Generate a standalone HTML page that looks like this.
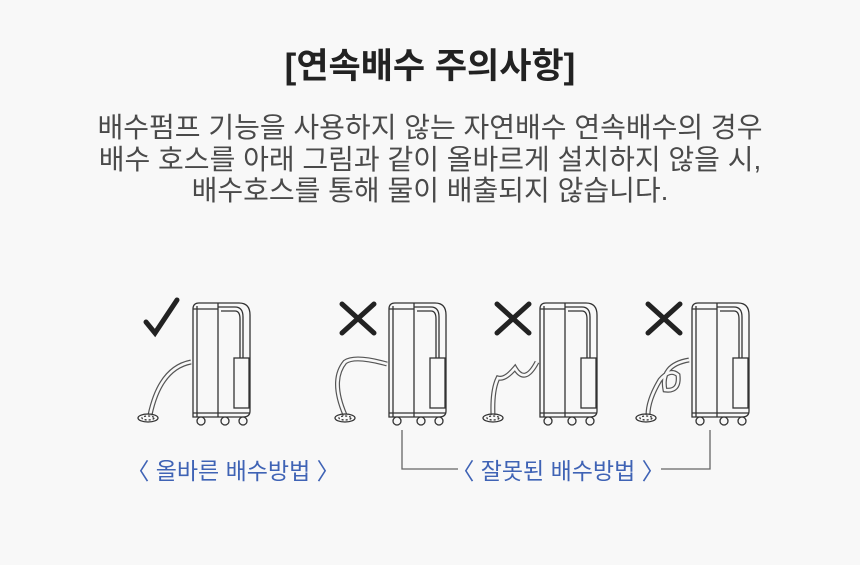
<!DOCTYPE html>
<html><head><meta charset="utf-8"><style>
body{margin:0;background:#f8f8f8;}
.w{position:relative;width:860px;height:565px;overflow:hidden;background:#f8f8f8;font-family:"Liberation Sans","Noto Sans CJK KR",sans-serif;}
.t{position:absolute;left:0;width:860px;text-align:center;}
</style></head><body><div class="w">
<div class="t" style="top:44px;font-size:35px;line-height:46px;font-weight:bold;color:#222;">[연속배수 주의사항]</div>
<div class="t" style="top:112px;font-size:28px;line-height:31.5px;color:#4a4a4a;">배수펌프 기능을 사용하지 않는 자연배수 연속배수의 경우<br>배수 호스를 아래 그림과 같이 올바르게 설치하지 않을 시,<br>배수호스를 통해 물이 배출되지 않습니다.</div>
<svg width="860" height="565" style="position:absolute;left:0;top:0" fill="none" stroke="#333" stroke-width="1.3">
<defs>
<g id="dev">
<path d="M0 116 V8 Q0 2 6 2 H46 Q57 2 57 14 V110 Q57 116 50 116 Z"/>
<line x1="25" y1="2" x2="25" y2="116"/>
<line x1="0" y1="8" x2="25" y2="8"/>
<path d="M25 6 H42 Q50 6 50 16 V57"/>
<path d="M28 10 H42 Q47 10 47 18 V57"/>
<rect x="41" y="57" width="15" height="50"/>
<line x1="4" y1="5" x2="4" y2="116"/>
<line x1="0" y1="112" x2="57" y2="112"/>
<circle cx="8" cy="120" r="4" fill="#f8f8f8"/><circle cx="32" cy="120" r="4" fill="#f8f8f8"/><circle cx="50" cy="120" r="4" fill="#f8f8f8"/>
</g>
<g id="base"><ellipse cx="0" cy="0" rx="10" ry="4"/><ellipse cx="0" cy="0" rx="6" ry="2" stroke-dasharray="2 2"/></g>
</defs>
<use href="#dev" x="193" y="301"/>
<use href="#dev" x="389" y="301"/>
<use href="#dev" x="540" y="301"/>
<use href="#dev" x="692" y="301"/>
<g stroke="#555" stroke-width="5"><path d="M191 362 Q160 368 150 415"/><path d="M387 364 Q355 355 345 362 Q330 380 345 415"/><path d="M537 362 Q525 385 515 368 Q505 380 498 378 Q492 390 493 415"/><path d="M689 360 Q660 365 665 390 Q680 392 678 375 Q670 368 660 380 Q648 400 648 415"/></g>
<g stroke="#f8f8f8" stroke-width="2.6"><path d="M191 362 Q160 368 150 415"/><path d="M387 364 Q355 355 345 362 Q330 380 345 415"/><path d="M537 362 Q525 385 515 368 Q505 380 498 378 Q492 390 493 415"/><path d="M689 360 Q660 365 665 390 Q680 392 678 375 Q670 368 660 380 Q648 400 648 415"/></g>
<use href="#base" x="148" y="418"/><use href="#base" x="345" y="418"/><use href="#base" x="493" y="418"/><use href="#base" x="646" y="418"/>
<g stroke="#222" stroke-width="5" stroke-linecap="round">
<path d="M146 322 L155 333 L177 300"/>
<path d="M342 304 L374 333 M374 304 L342 333"/>
<path d="M497 304 L529 333 M529 304 L497 333"/>
<path d="M648 304 L680 333 M680 304 L648 333"/>
</g>
<path d="M402 430 V469 H458 M661 469 H710 V430" stroke="#666"/>
<text x="233" y="479" text-anchor="middle" fill="#3f63b5" stroke="none" font-size="23" font-family="Liberation Sans,Noto Sans CJK KR,sans-serif">〈 올바른 배수방법 〉</text>
<text x="558" y="479" text-anchor="middle" fill="#3f63b5" stroke="none" font-size="23" font-family="Liberation Sans,Noto Sans CJK KR,sans-serif">〈 잘못된 배수방법 〉</text>
</svg>
</div></body></html>
